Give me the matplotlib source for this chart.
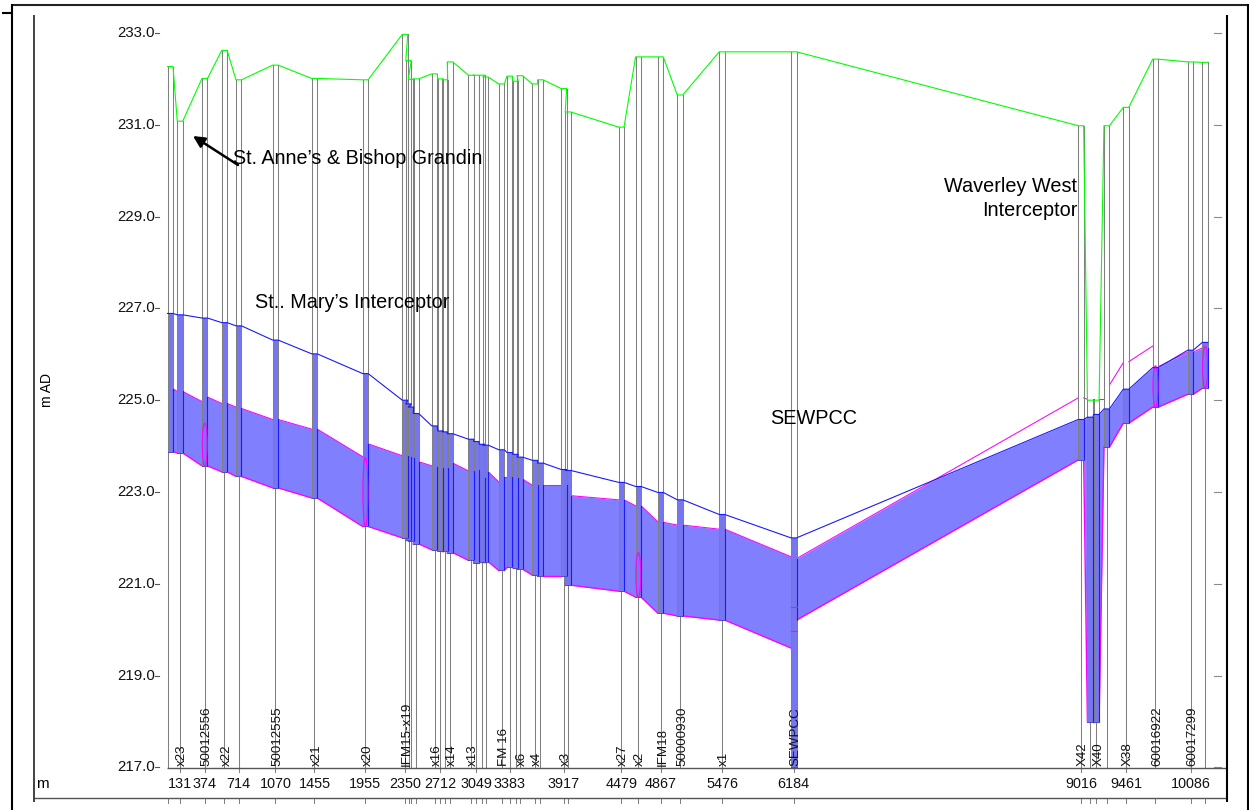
import matplotlib
matplotlib.use("Agg")
import matplotlib.pyplot as plt
from matplotlib.lines import Line2D
from matplotlib.patches import Ellipse
from matplotlib.transforms import Affine2D, blended_transform_factory as blend

plt.rcParams['font.family'] = ['Liberation Sans', 'DejaVu Sans']

# ---- data: long section, chainage in m, levels in m AD ----
chain = [35, 131, 375, 569, 710, 1072, 1457, 1959, 2350, 2385, 2409, 2458, 2641, 2700,
         2744, 2794, 3003, 3053, 3109, 3144, 3302, 3383, 3440, 3482, 3632, 3684, 3917,
         3957, 4483, 4651, 4870, 5062, 5476, 6184, 9016, 9107, 9168, 9270, 9461, 9751,
         10097, 10240]
ground = [232.27, 231.08, 232.01, 232.62, 231.98, 232.30, 232.01, 231.98, 232.97, 232.40,
          231.99, 232.00, 232.11, 232.00, 231.98, 232.37, 232.08, 232.08, 232.08, 232.04,
          231.89, 232.06, 231.95, 232.07, 231.89, 231.98, 231.79, 231.28, 230.95, 232.48,
          232.48, 231.65, 232.59, 232.59, 230.98, 225.00, 225.00, 230.98, 231.38, 232.43,
          232.37, 232.36]
hgl = [226.89, 226.86, 226.79, 226.69, 226.62, 226.31, 226.01, 225.58, 225.00, 224.92,
       224.85, 224.71, 224.44, 224.33, 224.31, 224.27, 224.15, 224.10, 224.04, 224.02,
       223.92, 223.86, 223.82, 223.76, 223.69, 223.63, 223.49, 223.47, 223.21, 223.12,
       222.99, 222.83, 222.51, 222.00, 224.58, 224.63, 224.69, 224.81, 225.24, 225.71,
       226.09, 226.26]
sump = [223.88, 223.85, 223.57, 223.44, 223.34, 223.09, 222.87, 222.25, 222.00, 221.95,
        221.93, 221.87, 221.74, 221.71, 221.71, 221.68, 221.51, 221.45, 221.48, 221.48,
        221.29, 221.36, 221.35, 221.32, 221.19, 221.16, 221.16, 220.97, 220.84, 220.71,
        220.36, 220.30, 220.21, 217.00, 223.70, 218.00, 218.00, 223.98, 224.50, 224.85,
        225.13, 225.26]
inv_in = list(sump)
inv_out = list(sump)
inv_in[33] = 219.60
inv_out[33] = 220.21
soffit_in = [225.25, 225.19, 224.97, 224.93, 224.85, 224.58, 224.37, 223.77, 223.79, 223.76,
             223.74, 223.68, 223.57, 223.52, 223.52, 223.52, 223.46, 223.48, 223.30, 223.30,
             223.22, 223.33, 223.30, 223.30, 223.15, 223.15, 223.15, 223.15, 222.83, 222.70,
             222.35, 222.28, 222.19, 221.59, 225.05, 225.02, 225.02, 225.02, 225.82, 226.18,
             226.05, 226.14]
soffit_out = [225.25, 225.19, 225.07, 224.93, 224.82, 224.58, 224.37, 224.05, 223.79, 223.76,
              223.74, 223.66, 223.54, 223.52, 223.52, 223.63, 223.46, 223.48, 223.30, 223.44,
              223.33, 223.33, 223.30, 223.28, 223.15, 223.15, 223.15, 222.92, 222.83, 222.70,
              222.34, 222.28, 222.19, 221.55, 225.05, 225.02, 225.02, 225.33, 225.84, 225.73,
              226.05, 226.14]
ellipse_node = [2, 7, 29, 39, 41]
ellipse_top = [224.50, 223.75, 221.68, 225.75, 226.17]
sewpcc_marks = [220.49, 219.98]

y_ticks = [233, 231, 229, 227, 225, 223, 221, 219, 217]
y_tick_labels = ['233.0', '231.0', '229.0', '227.0', '225.0', '223.0', '221.0', '219.0', '217.0']
chain_label_node = [1, 2, 4, 5, 6, 7, 8, 13, 17, 21, 26, 28, 30, 32, 33, 34, 38, 40]
chain_labels = ['131', '374', '714', '1070', '1455', '1955', '2350', '2712', '3049', '3383',
                '3917', '4479', '4867', '5476', '6184', '9016', '9461', '10086']
name_node = [1, 2, 3, 5, 6, 7, 8, 12, 15, 16, 20, 23, 24, 26, 28, 29, 30, 31, 32, 33, 34, 36, 38, 39, 40]
names = ['x23', '50012556', 'x22', '50012555', 'x21', 'x20', 'IFM15-x19', 'x16', 'x14', 'x13',
         'FM 16', 'x6', 'x4', 'x3', 'x27', 'x2', 'IFM18', '50000930', 'x1', 'SEWPCC',
         'X42', 'X40', 'X38', '60016922', '60017299']

# ---- styles ----
W, H = 1249, 810
GREY = '#808080'
PIPE = '#8080ff'
WELL = '#7676f2'
BLUE = '#1a1aff'
MAG = '#ff00ff'
GREEN = '#00ff00'
half = 27.0  # half width of a manhole symbol along the chainage axis

fig = plt.figure(figsize=(W / 100, H / 100), dpi=100, facecolor='white')
ax = fig.add_axes([0, 0, 1, 1])
ax.axis('off')
ax.set_xlim(131 - 180 / 0.1014, 131 + (W - 180) / 0.1014)
ax.set_ylim(233 - (H - 33) / 45.9, 233 + 33 / 45.9)

pix = Affine2D().scale(1, -1).translate(0, H)   # layout pixels, origin top-left
x_pix = blend(ax.transData, pix)
y_pix = blend(pix, ax.transData)


def frame(xs, ys, color='black', lw=1.5, z=8):
    ax.add_line(Line2D(xs, ys, transform=pix, color=color, lw=lw, zorder=z, clip_on=False,
                       solid_capstyle='butt'))


n = len(chain)
left = [c - half for c in chain]
right = [c + half for c in chain]

# pipes
for i in range(n - 1):
    xs = [right[i], left[i + 1]]
    top = [min(soffit_out[i], hgl[i]), min(soffit_in[i + 1], hgl[i + 1])]
    # water surface follows the lower of soffit and hydraulic line
    s0, s1 = soffit_out[i], soffit_in[i + 1]
    h0, h1 = hgl[i], hgl[i + 1]
    if (s0 - h0) * (s1 - h1) < 0:
        t = (h0 - s0) / ((s1 - s0) - (h1 - h0))
        xm = xs[0] + t * (xs[1] - xs[0])
        ym = s0 + t * (s1 - s0)
        bm = inv_out[i] + t * (inv_in[i + 1] - inv_out[i])
        ax.fill_between([xs[0], xm, xs[1]], [inv_out[i], bm, inv_in[i + 1]], [top[0], ym, top[1]],
                        color=PIPE, lw=0, zorder=2)
    else:
        ax.fill_between(xs, [inv_out[i], inv_in[i + 1]], top, color=PIPE, lw=0, zorder=2)
    ax.plot(xs, [s0, s1], color=MAG, lw=0.75, zorder=3)
    ax.plot(xs, [inv_out[i], inv_in[i + 1]], color=MAG, lw=1.0, zorder=3)

# manholes
for i in range(n):
    ax.fill_between([left[i], right[i]], [sump[i]] * 2, [hgl[i]] * 2, color=WELL, lw=0, zorder=4)
    ax.plot([left[i], left[i]], [sump[i], ground[i]], color=GREY, lw=0.75, zorder=5)
    ax.plot([right[i], right[i]], [sump[i], ground[i]], color=GREY, lw=0.75, zorder=5)
    ax.plot([right[i], right[i]], [inv_out[i], min(hgl[i], soffit_out[i])], color=BLUE, lw=0.8, zorder=6)
    ax.plot([left[i], right[i]], [sump[i], sump[i]], color='#4a4ac8', lw=0.7, zorder=6)
    drop = left[0] if i == 0 else chain[i]
    ax.plot([drop, drop], [217, sump[i]], color=GREY, lw=0.75, zorder=1)
    ax.add_line(Line2D([drop, drop], [798, 803], transform=x_pix, color=GREY, lw=0.75, zorder=1))

for i, top in zip(ellipse_node, ellipse_top):
    ax.add_patch(Ellipse((chain[i], (top + sump[i]) / 2), 2 * half * 0.9, top - sump[i],
                         fill=False, ec=MAG, lw=0.8, zorder=7))
for lev in sewpcc_marks:
    ax.plot([left[33], right[33]], [lev, lev], color=MAG, lw=0.8, zorder=7)

# ground and hydraulic lines, flat over each manhole
gx, gy, hy = [], [], []
for i in range(n):
    gx += [left[i], right[i]]
    gy += [ground[i]] * 2
    hy += [hgl[i]] * 2
ax.plot(gx, gy, color=GREEN, lw=0.8, zorder=7)
ax.plot(gx, hy, color=BLUE, lw=0.8, zorder=7)

# axes furniture
frame([167, 1227], [767.5, 767.5], '#555555', 1.0)
frame([33.5, 1227], [798, 798], '#555555', 1.0)
for v, lab in zip(y_ticks, y_tick_labels):
    ax.text(155, v, lab, transform=y_pix, ha='right', va='center', fontsize=10.8, color='#111111')
    ax.add_line(Line2D([155, 159], [v, v], transform=y_pix, color='#555555', lw=0.8))
    ax.add_line(Line2D([1214, 1221], [v, v], transform=y_pix, color='#8a8a8a', lw=0.8))
for i, lab in zip(chain_label_node, chain_labels):
    ax.text(chain[i], 784, lab, transform=x_pix, ha='center', va='center', fontsize=10.4, color='#111111')
    ax.add_line(Line2D([chain[i], chain[i]], [767, 772], transform=x_pix, color=GREY, lw=0.75))
name_tr = x_pix + Affine2D().translate(2, 0)
for i, lab in zip(name_node, names):
    ax.text(chain[i], 766.5, lab, transform=name_tr, rotation=90, ha='center', va='bottom',
            fontsize=9.6, color='#111111', zorder=9)

ax.text(47, 390, 'm AD', transform=pix, rotation=90, ha='center', va='center', fontsize=10)
ax.text(36, 784, 'm', transform=pix, ha='left', va='center', fontsize=11)

# annotations
ax.text(233, 158, "St. Anne\u2019s & Bishop Grandin", transform=pix, ha='left', va='center', fontsize=14.2, zorder=9)
ax.text(255, 303, "St.. Mary\u2019s Interceptor", transform=pix, ha='left', va='center', fontsize=14.3, zorder=9)
ax.text(770, 419, 'SEWPCC', transform=pix, ha='left', va='center', fontsize=14.3, zorder=9)
ax.text(1077, 186, 'Waverley West', transform=pix, ha='right', va='center', fontsize=14.3, zorder=9)
ax.text(1077, 211, 'Interceptor', transform=pix, ha='right', va='center', fontsize=14.3, zorder=9)
ax.annotate('', xy=(193, 136), xytext=(238, 165), xycoords=pix, textcoords=pix, zorder=9,
            arrowprops=dict(arrowstyle='-|>', color='black', lw=1.8, mutation_scale=17,
                            shrinkA=0, shrinkB=0))

# page frame
frame([11, 1248.5], [4.5, 4.5], '#222222', 1.5)
frame([11.5, 11.5], [4, 810], 'black', 1.5)
frame([1248, 1248], [4, 810], 'black', 1.5)
frame([2, 11], [12.5, 12.5], 'black', 1.5)
frame([33.5, 33.5], [15, 802], '#222222', 1.2)
frame([1226.7, 1226.7], [15, 802], 'black', 1.5)

fig.savefig('out.png', dpi=100, facecolor='white')
